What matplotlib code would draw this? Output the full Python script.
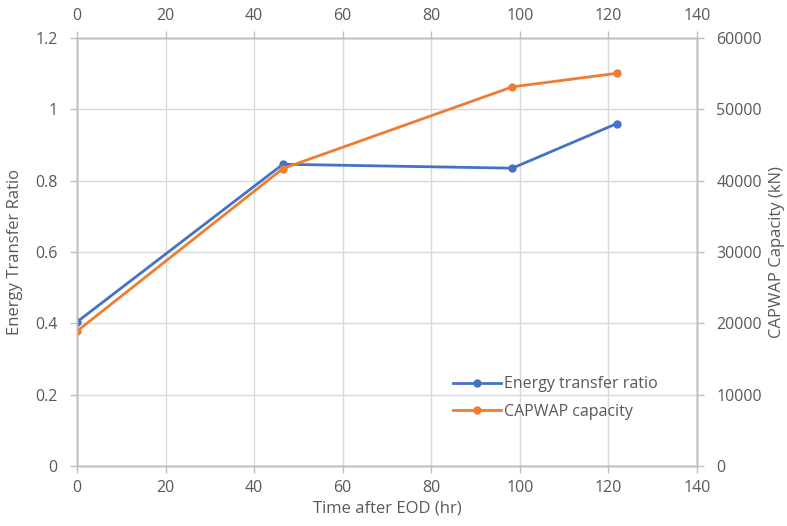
import matplotlib
matplotlib.use("Agg")
import matplotlib.pyplot as plt

# data
hours = [0, 46.5, 98.3, 121.9]
energy_ratio = [0.404, 0.846, 0.835, 0.960]
capwap_kn = [18900, 41700, 53150, 55050]

x_ticks = [0, 20, 40, 60, 80, 100, 120, 140]
ratio_ticks = [0, 0.2, 0.4, 0.6, 0.8, 1, 1.2]
ratio_labels = ["0", "0.2", "0.4", "0.6", "0.8", "1", "1.2"]
kn_ticks = [0, 10000, 20000, 30000, 40000, 50000, 60000]

blue = "#4472C4"
orange = "#ED7D31"
text_col = "#595959"
grid_col = "#D9D9D9"
axis_col = "#BFBFBF"

plt.rcParams["font.family"] = ["Open Sans", "DejaVu Sans"]

fig = plt.figure(figsize=(7.87, 5.26), dpi=100)
ax = fig.add_axes([77 / 787, 60 / 526, 620 / 787, 428 / 526])

ax.plot(hours, energy_ratio, color=blue, lw=2, marker="o", ms=5,
        label="Energy transfer ratio", zorder=3)
ax.set_xlim(0, 140)
ax.set_ylim(0, 1.2)
ax.set_xticks(x_ticks)
ax.set_yticks(ratio_ticks)
ax.set_yticklabels(ratio_labels)
ax.grid(color=grid_col, lw=1)
ax.set_axisbelow(True)
ax.set_xlabel("Time after EOD (hr)", color=text_col, fontsize=12, labelpad=3)
ax.set_ylabel("Energy Transfer Ratio", color=text_col, fontsize=12, labelpad=9)

ax2 = ax.twinx()
ax2.plot(hours, capwap_kn, color=orange, lw=2, marker="o", ms=5,
         label="CAPWAP capacity", zorder=3)
ax2.set_ylim(0, 60000)
ax2.set_yticks(kn_ticks)
ax2.set_ylabel("CAPWAP Capacity (kN)", color=text_col, fontsize=12, labelpad=5)

ax3 = ax.twiny()
ax3.set_xlim(0, 140)
ax3.set_xticks(x_ticks)

for a in (ax, ax2, ax3):
    for s in a.spines.values():
        s.set_color(axis_col)
        s.set_linewidth(1)
    a.tick_params(colors=axis_col, labelcolor=text_col, labelsize=11.5,
                  length=5, width=1, direction="out", pad=5)

ax.tick_params(axis="y", pad=9)
ax2.tick_params(axis="y", pad=9)

h1, l1 = ax.get_legend_handles_labels()
h2, l2 = ax2.get_legend_handles_labels()
leg = ax2.legend(h1 + h2, l1 + l2, loc="lower right",
                 bbox_to_anchor=(0.96, 0.075), frameon=False,
                 fontsize=11.5, handlelength=3.0, handletextpad=0.2,
                 labelspacing=0.7)
for t in leg.get_texts():
    t.set_color(text_col)

fig.savefig("out.png", dpi=100)
